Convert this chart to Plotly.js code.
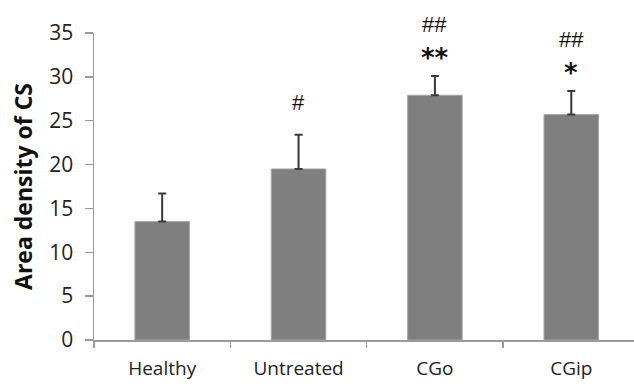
<!DOCTYPE html>
<html>
<head>
<meta charset="utf-8">
<script src="https://cdn.plot.ly/plotly-3.0.1.min.js"></script>
<style>html,body{margin:0;padding:0;background:#fff;}#chart{width:634px;height:388px;}</style>
</head>
<body>
<div id="chart"></div>
<script>
const categories = ["Healthy", "Untreated", "CGo", "CGip"];
const values = [13.5, 19.5, 27.9, 25.7];
const errors = [3.2, 3.9, 2.2, 2.7];
const hashMarks = ["", "#", "##", "##"];
const starMarks = ["", "", "**", "*"];
const yTicks = [0, 5, 10, 15, 20, 25, 30, 35];

const annotations = [];
categories.forEach((c, i) => {
  const top = values[i] + errors[i];
  if (starMarks[i]) {
    annotations.push({x: c, y: top, xref: 'x', yref: 'y', text: '<b>' + starMarks[i] + '</b>',
      showarrow: false, yanchor: 'bottom', yshift: 1,
      font: {family: 'DejaVu Sans', size: 26, color: '#111'}});
    annotations.push({x: c, y: top, xref: 'x', yref: 'y', text: hashMarks[i],
      showarrow: false, yanchor: 'bottom', yshift: 37,
      font: {family: 'Liberation Sans', size: 22, color: '#111'}});
  } else if (hashMarks[i]) {
    annotations.push({x: c, y: top, xref: 'x', yref: 'y', text: hashMarks[i],
      showarrow: false, yanchor: 'bottom', yshift: 18,
      font: {family: 'Liberation Sans', size: 22, color: '#111'}});
  }
});

const trace = {
  type: 'bar',
  x: categories,
  y: values,
  marker: {color: '#7f7f7f', line: {color: '#a6a6a6', width: 1}},
  error_y: {type: 'data', array: errors, arrayminus: errors.map(() => 0), symmetric: false,
    color: '#3a3a3a', thickness: 2, width: 4},
  hoverinfo: 'none'
};

const layout = {
  width: 634, height: 388,
  margin: {l: 94, r: 0, t: 33, b: 48},
  paper_bgcolor: '#fff', plot_bgcolor: '#fff',
  bargap: 0.6,
  showlegend: false,
  font: {family: 'Open Sans', color: '#222'},
  xaxis: {
    type: 'category', range: [-0.5, 3.46],
    showline: true, linecolor: '#9a9a9a', linewidth: 1.5,
    ticks: 'outside', tickson: 'boundaries', ticklen: 6, tickcolor: '#9a9a9a', tickwidth: 1.5,
    tickfont: {family: 'Open Sans', size: 19, color: '#222'},
    ticklabelstandoff: 11,
    showgrid: false, zeroline: false
  },
  yaxis: {
    range: [0, 35], tickvals: yTicks, ticktext: yTicks.map(String),
    showline: true, linecolor: '#9a9a9a', linewidth: 1.5,
    ticks: 'outside', ticklen: 8, tickcolor: '#9a9a9a', tickwidth: 1.5,
    tickfont: {family: 'Open Sans', size: 21, color: '#222'},
    ticklabelstandoff: 7,
    showgrid: false, zeroline: false,
    title: {text: '<b>Area density of CS</b>', font: {family: 'Open Sans', size: 23, color: '#111'}, standoff: 10}
  },
  annotations: annotations
};

Plotly.newPlot('chart', [trace], layout, {displayModeBar: false, staticPlot: true});
</script>
</body>
</html>
